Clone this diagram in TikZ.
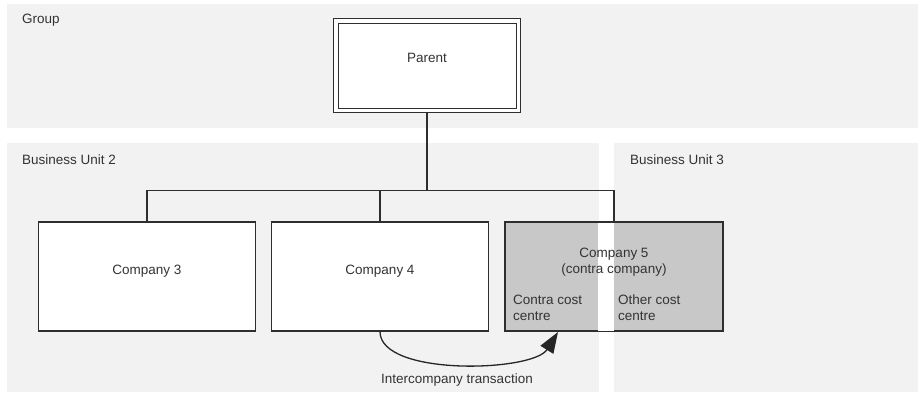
\documentclass[tikz,border=0pt]{standalone}
\usepackage{fontspec}
\setmainfont{Liberation Sans}
\usetikzlibrary{arrows.meta}

\definecolor{regionbg}{RGB}{241,242,241}
\definecolor{linegray}{RGB}{46,46,46}
\definecolor{textgray}{RGB}{51,51,51}
\definecolor{contragray}{RGB}{200,200,200}

\begin{document}
\begin{tikzpicture}[
        x=1pt, y=-1pt,
        >={Triangle[length=21pt,width=15pt]},
        region/.style={
            rectangle,
            fill=regionbg,
            anchor=north west,
            inner sep=0pt,
            outer sep=0pt
        },
        parentbox/.style={
            rectangle,
            draw=linegray,
            line width=1pt,
            double=white,
            double distance=3.5pt,
            fill=white,
            minimum width=182.5pt,
            minimum height=89.5pt,
            inner sep=0pt
        },
        cobox/.style={
            rectangle,
            draw=linegray,
            line width=1.2pt,
            fill=white,
            minimum width=217pt,
            minimum height=109pt,
            inner sep=0pt
        },
        txt/.style={
            font=\fontsize{13.5}{16}\selectfont,
            text=textgray,
            inner sep=0pt,
            anchor=base
        },
        wire/.style={draw=linegray, line width=1.4pt},
        flow/.style={->, draw=black!85, line width=1.3pt}
    ]

    % background regions
    \useasboundingbox (0,0) rectangle (918,392);
    \node[region, minimum width=911pt, minimum height=124pt] (group) at (7,4) {};
    \node[region, minimum width=592pt, minimum height=249pt] (bu2) at (7,143) {};
    \node[region, minimum width=304pt, minimum height=249pt] (bu3) at (614,143) {};

    \node[txt, anchor=base west] (grouplbl) at (22,23)  {Group};
    \node[txt, anchor=base west] (bu2lbl)   at (22,164) {Business Unit 2};
    \node[txt, anchor=base west] (bu3lbl)   at (630,164) {Business Unit 3};

    % companies
    \node[cobox] (c3) at (147,276.5) {};
    \node[cobox] (c4) at (380,276.5) {};
    \node[cobox, fill=contragray] (c5) at (614,276.5) {};
    \fill[white] (598,222.5) rectangle (614,330.5);
    \draw[linegray, line width=1.2pt] (c5.north west) rectangle (c5.south east);

    \node[txt] (c3lbl) at (147,274) {Company 3};
    \node[txt] (c4lbl) at (380,274) {Company 4};
    \node[txt] (c5lbl)  at (614,257) {Company 5};
    \node[txt] (c5sub)  at (614,273) {(contra company)};
    % base of a two-line node sits on its last line
    \node[txt, anchor=base west, align=left] (contracc) at (513,320) {Contra cost\\centre};
    \node[txt, anchor=base west, align=left] (othercc)  at (618,320) {Other cost\\centre};

    % parent and the tree lines
    \node[parentbox] (parent) at (427,65.5) {};
    \node[txt] (parentlbl) at (427,62) {Parent};

    \coordinate (bus) at (427,190.5);
    \draw[wire, shorten <=2.2pt] (parent.south) -- (bus);
    \draw[wire] (c3.north) |- (bus) -| (c5.north);
    \draw[wire] (c4.north) -- (c4.north |- bus);

    % intercompany flow
    \coordinate (tip) at (558,332);
    \draw[flow] (c4.south) .. controls +(0,45) and +(-25,40) .. (tip);
    \node[txt] (flowlbl) at (457,383) {Intercompany transaction};

\end{tikzpicture}
\end{document}
